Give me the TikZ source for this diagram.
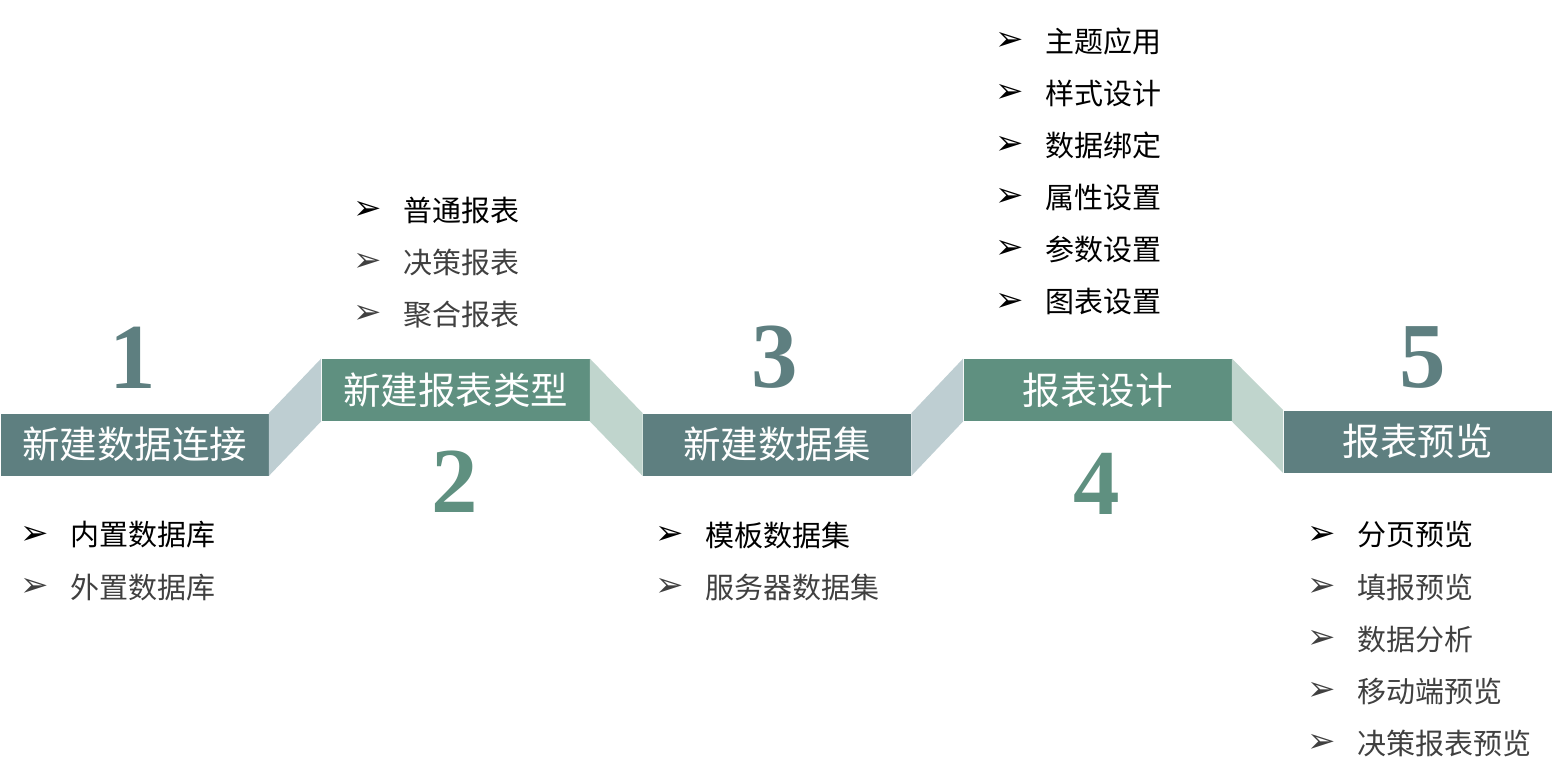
\documentclass[tikz,border=0pt]{standalone}
\usepackage{fontspec}
\setmainfont{Noto Sans CJK SC}
\newfontfamily\numfont{Liberation Serif}
\newfontfamily\dingfont{DejaVu Sans}
\usetikzlibrary{positioning}
\definecolor{boxdark}{RGB}{94,127,128}
\definecolor{boxgreen}{RGB}{95,144,128}
\definecolor{banddark}{RGB}{190,206,210}
\definecolor{bandgreen}{RGB}{192,213,205}
\definecolor{itemgray}{RGB}{64,64,64}
\tikzset{
  stepbox/.style={ rectangle, inner sep=0pt, minimum width=134pt, minimum height=31pt, text=white, font=\fontsize{18.75}{20}\selectfont }
}
\tikzset{
  stepnum/.style={ inner sep=0pt, font=\numfont\bfseries\fontsize{46.5}{48}\selectfont }
}
\tikzset{
  bullet/.style={ inner sep=0pt, font=\dingfont\fontsize{17}{18}\selectfont }
}
\tikzset{
  item/.style={ anchor=west, inner sep=0pt, font=\fontsize{14.5}{16}\selectfont }
}

\begin{document}
\begin{tikzpicture}[x=0.5pt, y=-0.5pt]
      \useasboundingbox (0,0) rectangle (1559,777);

      \node[stepbox, fill=boxdark] (box1) at (134.5, 444.5) {新建数据连接};
      \node[stepbox, fill=boxgreen] (box2) at (455.5, 390) {新建报表类型};
      \node[stepbox, fill=boxdark] (box3) at (777, 444.5) {新建数据集};
      \node[stepbox, fill=boxgreen] (box4) at (1097.5, 390) {报表设计};
      \node[stepbox, fill=boxdark] (box5) at (1417.5, 441.5) {报表预览};

      \fill[banddark] (box1.north east) -- (box2.north west) -- (box2.south west) -- (box1.south east) -- cycle;
      \fill[bandgreen] (box2.north east) -- (box3.north west) -- (box3.south west) -- (box2.south east) -- cycle;
      \fill[banddark] (box3.north east) -- (box4.north west) -- (box4.south west) -- (box3.south east) -- cycle;
      \fill[bandgreen] (box4.north east) -- (box5.north west) -- (box5.south west) -- (box4.south east) -- cycle;

      \node[stepnum, text=boxdark] (num1) at (133, 358) {1};
      \node[stepnum, text=boxgreen] (num2) at (455, 482) {2};
      \node[stepnum, text=boxdark] (num3) at (775, 357) {3};
      \node[stepnum, text=boxgreen] (num4) at (1097, 484) {4};
      \node[stepnum, text=boxdark] (num5) at (1423, 358) {5};

      % lists
      \foreach \t/\c [count=\i] in {内置数据库/black, 外置数据库/itemgray} {
        \node[bullet, text=\c] (b1\i) at (35, {535+52.2*(\i-1)}) {➢};
        \node[item, text=\c, right=17.5pt of b1\i.center] (t1\i) {\t};
      }
      \foreach \t/\c [count=\i] in {普通报表/black, 决策报表/itemgray, 聚合报表/itemgray} {
        \node[bullet, text=\c] (b2\i) at (368, {210+52.2*(\i-1)}) {➢};
        \node[item, text=\c, right=17.5pt of b2\i.center] (t2\i) {\t};
      }
      \foreach \t/\c [count=\i] in {模板数据集/black, 服务器数据集/itemgray} {
        \node[bullet, text=\c] (b3\i) at (670, {535+52.2*(\i-1)}) {➢};
        \node[item, text=\c, right=17.5pt of b3\i.center] (t3\i) {\t};
      }
      \foreach \t [count=\i] in {主题应用, 样式设计, 数据绑定, 属性设置, 参数设置, 图表设置} {
        \node[bullet] (b4\i) at (1010, {41+52.2*(\i-1)}) {➢};
        \node[item, right=17.5pt of b4\i.center] (t4\i) {\t};
      }
      \foreach \t/\c [count=\i] in {分页预览/black, 填报预览/itemgray, 数据分析/itemgray, 移动端预览/itemgray, 决策报表预览/itemgray} {
        \node[bullet, text=\c] (b5\i) at (1322, {535+52.2*(\i-1)}) {➢};
        \node[item, text=\c, right=17.5pt of b5\i.center] (t5\i) {\t};
      }
\end{tikzpicture}
\end{document}
